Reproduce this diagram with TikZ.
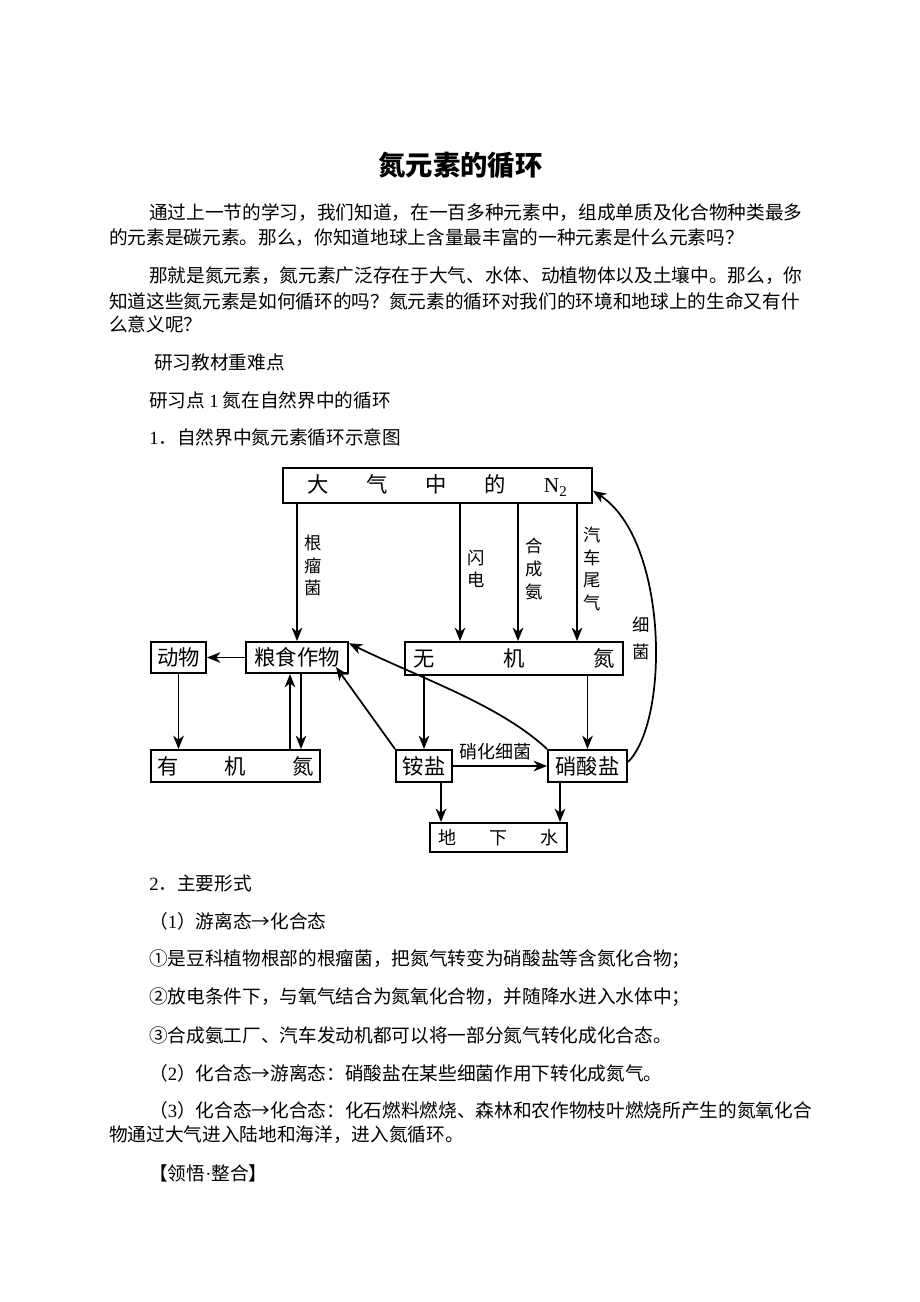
\documentclass[tikz,border=0pt]{standalone}
\usepackage{fontspec}
\setmainfont{Noto Sans CJK SC}
\newfontfamily\tnr{Liberation Serif}
\usepackage{tikz}
\usetikzlibrary{arrows.meta}

\tikzset{
  box/.style={draw, line width=1.5pt, inner sep=0pt, font=\fontsize{16pt}{16pt}\selectfont},
  arr/.style={line width=1.3pt, -{Stealth[length=10pt,width=8pt,inset=3pt]}},
  lbl/.style={inner sep=0pt, align=center, font=\fontsize{13pt}{17pt}\selectfont},
  body/.style={anchor=west, inner sep=0.75pt, font=\fontsize{14pt}{14pt}\selectfont},
}

\begin{document}
\begin{tikzpicture}[x=0.75pt,y=0.75pt,yscale=-1,xscale=1]

\fill[white] (0,0) rectangle (920,1302);
\useasboundingbox (0,0) rectangle (920,1302);

% page text
\draw (460.5,165) node [inner sep=0.75pt, font=\fontsize{20.5pt}{20.5pt}\selectfont\bfseries] (title) {氮元素的循环};

\draw (148,213) node [body] (p1) {通过上一节的学习，我们知道，在一百多种元素中，组成单质及化合物种类最多};
\draw (108,238) node [body] (p2) {的元素是碳元素。那么，你知道地球上含量最丰富的一种元素是什么元素吗？};
\draw (148,276) node [body] (p3) {那就是氮元素，氮元素广泛存在于大气、水体、动植物体以及土壤中。那么，你};
\draw (108,301) node [body] (p4) {知道这些氮元素是如何循环的吗？氮元素的循环对我们的环境和地球上的生命又有什};
\draw (108,324) node [body] (p5) {么意义呢？};
\draw (153,362) node [body] (h1) {研习教材重难点};
\draw (148,400) node [body] (h2) {研习点 {\tnr 1} 氮在自然界中的循环};
\draw (148,437) node [body] (h3) {{\tnr 1}．自然界中氮元素循环示意图};

% diagram boxes
\draw (437.5,485.5) node [box, minimum width=231.75pt, minimum height=26.25pt] (n2) {\parbox{195pt}{大\hfill 气\hfill 中\hfill 的\hfill {\tnr N\textsubscript{2}}}};
\draw (178.5,657.5) node [box, minimum width=41.25pt, minimum height=23.25pt] (dongwu) {动物};
\draw (297,657.5) node [box, minimum width=76.5pt, minimum height=23.25pt] (liang) {粮食作物};
\draw (514,658.5) node [box, minimum width=163.5pt, minimum height=24.75pt] (wuji) {\parbox{151.5pt}{无\hfill 机\hfill 氮}};
\draw (235.5,766) node [box, minimum width=126.75pt, minimum height=24pt] (youji) {\parbox{117pt}{有\hfill 机\hfill 氮}};
\draw (424,766) node [box, minimum width=42pt, minimum height=24pt] (anyan) {铵盐};
\draw (587.5,766) node [box, minimum width=59.25pt, minimum height=24pt] (xiao) {硝酸盐};
\draw (498.5,837.5) node [box, minimum width=102.75pt, minimum height=21.75pt, font=\fontsize{13.5pt}{13.5pt}\selectfont] (dixia) {\parbox{90pt}{地\hfill 下\hfill 水}};

\coordinate (s1) at ([xshift=-40.5pt]wuji.north);
\coordinate (s2) at ([xshift=3pt]wuji.north);
\coordinate (s3) at ([xshift=47.25pt]wuji.north);
\coordinate (u1) at ([xshift=-5.25pt]liang.south);
\coordinate (d1) at ([xshift=3pt]liang.south);
\coordinate (a1) at ([xshift=12.75pt]anyan.south);
\coordinate (x1) at ([xshift=-20.6pt]xiao.south);

% connectors
\draw [arr] (n2.south -| liang.north) -- (liang.north);
\draw [arr] (n2.south -| s1) -- (s1);
\draw [arr] (n2.south -| s2) -- (s2);
\draw [arr] (n2.south -| s3) -- (s3);
\draw [arr] (liang.west) -- (dongwu.east);
\draw [arr] (dongwu.south) -- (dongwu.south |- youji.north);
\draw [arr] (u1 |- youji.north) -- (u1);
\draw [arr] (d1) -- (d1 |- youji.north);
\draw [arr] (anyan.north west) -- ([xshift=-9.75pt,yshift=-5.25pt]liang.south east);
\draw [arr] (xiao.north west) .. controls (500,705) and (420,678) .. ([yshift=-10.65pt]liang.east);
\draw [arr] (wuji.south -| anyan.north) -- (anyan.north);
\draw [arr] (wuji.south -| xiao.north) -- (xiao.north);
\draw [arr] (anyan.east) -- (xiao.west);
\draw [arr] (a1) -- (a1 |- dixia.north);
\draw [arr] (x1) -- (x1 |- dixia.north);
\draw [arr] ([yshift=-3pt]xiao.east) .. controls (670,720) and (668,540) .. ([yshift=4pt]n2.east);

% labels
\draw (313,565.5) node [lbl] (lgen) {根\\瘤\\菌};
\draw (476,569) node [lbl] (lshan) {闪\\电};
\draw (534,569) node [lbl] (lhe) {合\\成\\氨};
\draw (592,569) node [lbl] (lqi) {汽\\车\\尾\\气};
\draw (641,638.5) node [lbl, font=\fontsize{13pt}{20pt}\selectfont] (lxi) {细\\菌};
\draw (495,752) node [inner sep=0pt, font=\fontsize{13.5pt}{13.5pt}\selectfont] (lxh) {硝化细菌};

% page text below
\draw (148,883) node [body] (h4) {{\tnr 2}．主要形式};
\draw (148,921) node [body] (q1) {（{\tnr 1}）游离态→化合态};
\draw (148,959) node [body] (q2) {①是豆科植物根部的根瘤菌，把氮气转变为硝酸盐等含氮化合物；};
\draw (148,997) node [body] (q3) {②放电条件下，与氧气结合为氮氧化合物，并随降水进入水体中；};
\draw (148,1035) node [body] (q4) {③合成氨工厂、汽车发动机都可以将一部分氮气转化成化合态。};
\draw (148,1073) node [body] (q5) {（{\tnr 2}）化合态→游离态：硝酸盐在某些细菌作用下转化成氮气。};
\draw (148,1110) node [body] (q6) {（{\tnr 3}）化合态→化合态：化石燃料燃烧、森林和农作物枝叶燃烧所产生的氮氧化合};
\draw (108,1135) node [body] (q7) {物通过大气进入陆地和海洋，进入氮循环。};
\draw (148,1173) node [body] (q8) {【领悟{\tnr ·}整合】};

\end{tikzpicture}
\end{document}
